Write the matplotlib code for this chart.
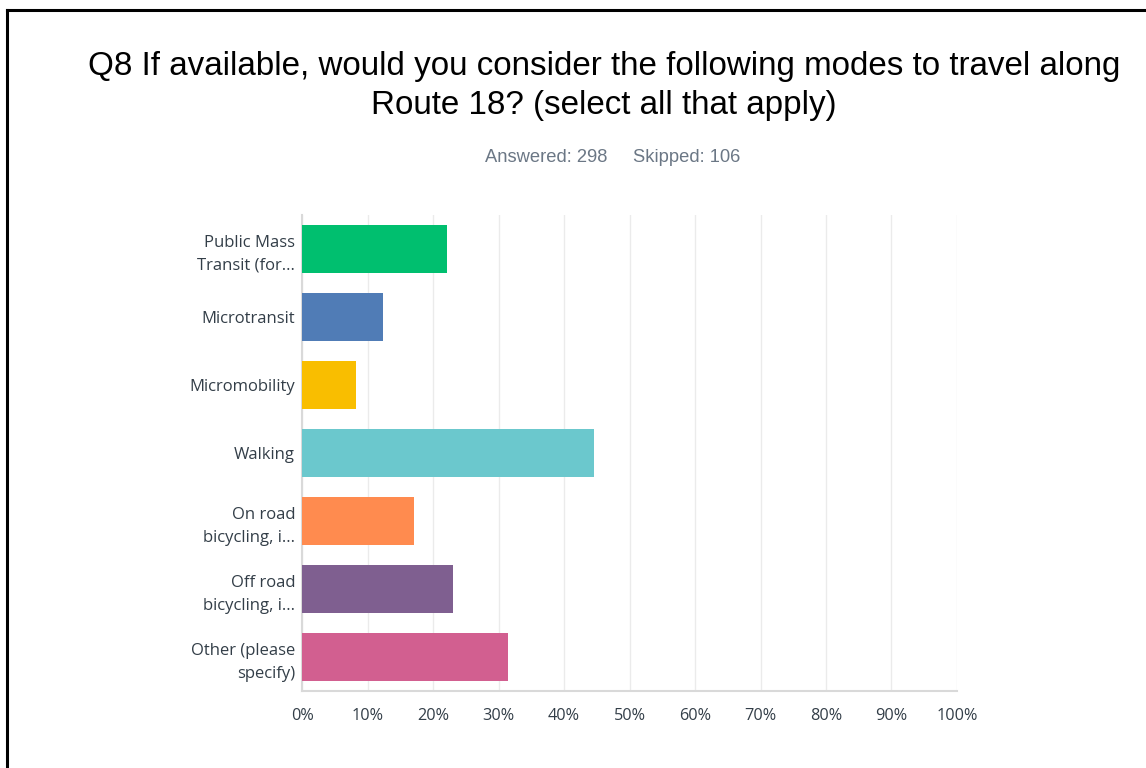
import matplotlib
matplotlib.use("Agg")
import matplotlib.pyplot as plt
from matplotlib.lines import Line2D

categories = ["Public Mass\nTransit (for...", "Microtransit", "Micromobility", "Walking",
              "On road\nbicycling, i...", "Off road\nbicycling, i...", "Other (please\nspecify)"]
values = [22.1, 12.4, 8.2, 44.6, 17.1, 23.1, 31.4]
colors = ["#00BF6F", "#507CB6", "#F9BE00", "#6BC8CD", "#FF8B4F", "#7F5F90", "#D25F90"]
xticks = [0, 10, 20, 30, 40, 50, 60, 70, 80, 90, 100]
xticklabels = [f"{t}%" for t in xticks]
title = "Q8 If available, would you consider the following modes to travel along\nRoute 18? (select all that apply)"
subtitle = "Answered: 298     Skipped: 106"

fig = plt.figure(figsize=(11.46, 7.68), dpi=100)
fig.patch.set_facecolor("white")

# frame lines
fig.add_artist(Line2D([7/1146, 7/1146], [0, 1 - 10/768], color="black", lw=2.2, transform=fig.transFigure))
fig.add_artist(Line2D([7/1146, 1], [1 - 10/768, 1 - 10/768], color="black", lw=2.2, transform=fig.transFigure))

fig.text(604/1146, 1 - 86/768, title, ha="center", va="center", fontsize=23.9,
         family="Liberation Sans", color="#000000", linespacing=1.37)
fig.text(613/1146, 1 - 157/768, subtitle, ha="center", va="center", fontsize=13.2,
         family="Liberation Sans", color="#6B7785")

ax = fig.add_axes([302/1146, 1 - 691/768, 655/1146, 476/768])
y = list(range(len(categories)))
ax.barh(y, values, height=0.72, color=colors, zorder=3)
ax.set_ylim(len(categories) - 0.5, -0.5)
ax.set_xlim(0, 100)
ax.set_xticks(xticks)
ax.set_xticklabels(xticklabels, fontsize=11.7, family="Open Sans", color="#333E48")
ax.set_yticks(y)
ax.set_yticklabels(categories, fontsize=12, family="Open Sans", color="#333E48", linespacing=1.55)
ax.tick_params(axis="both", length=0)
ax.tick_params(axis="y", pad=5)
ax.tick_params(axis="x", pad=12)
ax.grid(axis="x", color="#EBEBEB", lw=1, zorder=0)
for s in ["top", "right"]:
    ax.spines[s].set_visible(False)
ax.spines["left"].set_color("#D9D9D9")
ax.spines["left"].set_linewidth(1.5)
ax.spines["bottom"].set_color("#D9D9D9")
ax.spines["bottom"].set_linewidth(1.5)

fig.savefig("out.png", dpi=100)
